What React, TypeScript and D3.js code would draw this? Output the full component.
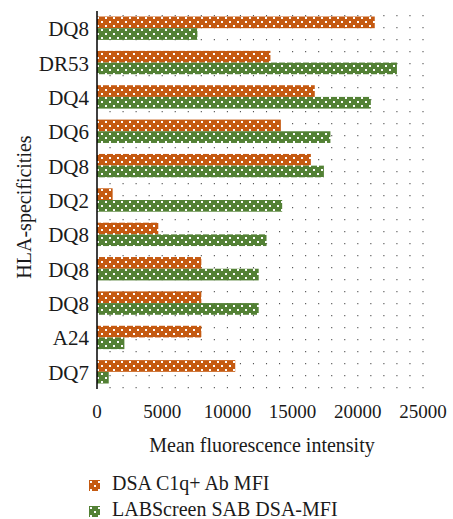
import React from "react";
import * as d3 from "d3";

const categories = ["DQ8", "DR53", "DQ4", "DQ6", "DQ8", "DQ2", "DQ8", "DQ8", "DQ8", "A24", "DQ7"];
const c1qValues = [21300, 13300, 16700, 14100, 16400, 1200, 4700, 8000, 8000, 8000, 10600];
const sabValues = [7700, 23000, 21000, 17900, 17400, 14200, 13000, 12400, 12400, 2100, 900];
const xTicks = [0, 5000, 10000, 15000, 20000, 25000];
const seriesNames = ["DSA C1q+ Ab MFI", "LABScreen SAB DSA-MFI"];
const seriesColors = ["#C55A11", "#538135"];

const width = 453;
const height = 519;
const font = "'Liberation Serif', 'Times New Roman', serif";

const App: React.FC = () => {
  const x = d3.scaleLinear().domain([0, 25000]).range([97, 423]);
  const y = d3
    .scaleBand<number>()
    .domain(categories.map((_, i) => i))
    .range([11, 389])
    .paddingInner(0.32)
    .paddingOuter(0.16);
  const sub = d3.scaleBand<number>().domain([0, 1]).range([0, y.bandwidth()]);
  const minor = d3.range(1000, 25001, 1000);
  const series = [c1qValues, sabValues];

  return (
    <svg
      width={width}
      height={height}
      style={{ position: "absolute", left: 0, top: 0, background: "#fff" }}
      fontFamily={font}
    >
      <defs>
        {seriesColors.map((c, i) => (
          <pattern key={i} id={`pat${i}`} width={8} height={8} patternUnits="userSpaceOnUse">
            <rect width={8} height={8} fill={c} />
            <rect x={1} y={1} width={2} height={2} fill="#fff" />
            <rect x={5} y={5} width={2} height={2} fill="#fff" />
          </pattern>
        ))}
      </defs>

      {/* dotted minor grid */}
      <g stroke="#555" strokeWidth={1.1} strokeDasharray="1.2 10.8">
        {minor.map((t) => (
          <line key={t} x1={x(t)} x2={x(t)} y1={15} y2={390} />
        ))}
      </g>

      {/* bars */}
      {series.map((vals, s) => (
        <g key={s} fill={`url(#pat${s})`}>
          {vals.map((v, i) => (
            <rect
              key={i}
              x={x(0)}
              y={(y(i) as number) + (sub(s) as number)}
              width={x(v) - x(0)}
              height={sub.bandwidth()}
            />
          ))}
        </g>
      ))}

      {/* y axis */}
      <line x1={x(0)} x2={x(0)} y1={11} y2={389} stroke="#000" strokeWidth={1.5} />
      <g fontSize={21} textAnchor="end" fill="#1a1a1a">
        {categories.map((c, i) => (
          <text key={i} x={89} y={(y(i) as number) + y.bandwidth() / 2 + 8}>
            {c}
          </text>
        ))}
      </g>

      {/* x ticks */}
      <g fontSize={19} textAnchor="middle" fill="#1a1a1a">
        {xTicks.map((t) => (
          <text key={t} x={x(t)} y={418}>
            {t}
          </text>
        ))}
      </g>
      <text x={262} y={452} fontSize={20} textAnchor="middle" fill="#1a1a1a">
        Mean fluorescence intensity
      </text>
      <text
        transform="translate(31,207) rotate(-90)"
        fontSize={20}
        textAnchor="middle"
        fill="#1a1a1a"
      >
        HLA-specificities
      </text>

      {/* legend */}
      {seriesNames.map((n, i) => (
        <g key={i} transform={`translate(89,${480 + i * 26})`}>
          <rect width={11} height={11} fill={`url(#pat${i})`} />
          <text x={23} y={10} fontSize={20} fill="#1a1a1a">
            {n}
          </text>
        </g>
      ))}
    </svg>
  );
};

export default App;
